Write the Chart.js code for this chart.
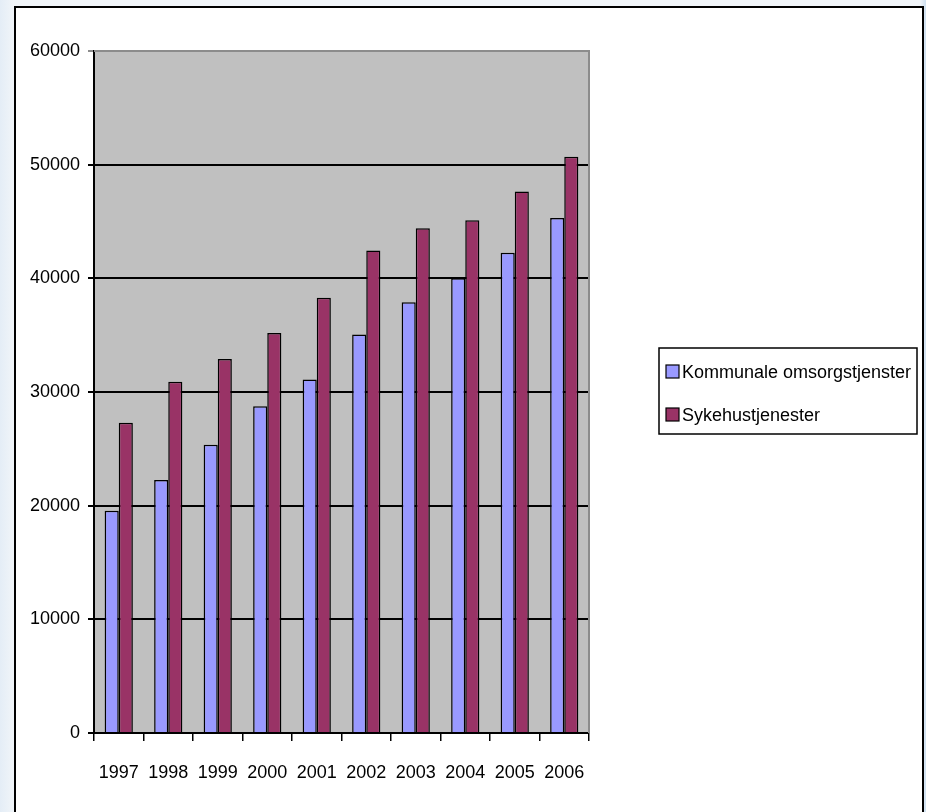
<!DOCTYPE html>
<html>
<head>
<meta charset="utf-8">
<title>Kommunale omsorgstjenester og sykehustjenester 1997-2006</title>
<script src="https://cdn.jsdelivr.net/npm/chart.js@4.4.1/dist/chart.umd.min.js"></script>
<style>
  html, body { margin: 0; padding: 0; }
  body {
    width: 926px; height: 812px; overflow: hidden; position: relative;
    background: linear-gradient(90deg, #e4edf6 0px, #f1f5f9 14px, #f1f5f9 920px, #cddff0 926px);
  }
  #frame {
    position: absolute; left: 14px; top: 6px; width: 906px; height: 900px;
    border: 2px solid #000; background: #fff;
  }
  #wrap { position: absolute; left: 0; top: 0; width: 926px; height: 812px; }
</style>
</head>
<body>
<div id="frame"></div>
<div id="wrap"><canvas id="chart"></canvas></div>
<script>
// data
const years = ["1997","1998","1999","2000","2001","2002","2003","2004","2005","2006"];
const kommunale = [19550, 22250, 25350, 28750, 31100, 35050, 37900, 40000, 42250, 45300];
const sykehus   = [27300, 30900, 32900, 35200, 38300, 42450, 44400, 45100, 47650, 50700];
const yTicks = [0, 10000, 20000, 30000, 40000, 50000, 60000];

const FONT = '"Liberation Sans", Arial, sans-serif';
const FSIZE = 18;

// grey plot background + grey top/right border
const plotBg = {
  id: 'plotBg',
  beforeDraw(chart) {
    const a = chart.chartArea, ctx = chart.ctx;
    ctx.save();
    ctx.fillStyle = '#c0c0c0';
    ctx.fillRect(a.left, a.top, a.right - a.left, a.bottom - a.top);
    ctx.restore();
  },
  afterDatasetsDraw(chart) {
    const a = chart.chartArea, ctx = chart.ctx;
    ctx.save();
    ctx.strokeStyle = '#8c8c8c';
    ctx.lineWidth = 2;
    ctx.beginPath();
    ctx.moveTo(a.left, a.top);
    ctx.lineTo(a.right, a.top);
    ctx.lineTo(a.right, a.bottom);
    ctx.stroke();
    ctx.restore();
  }
};

// boxed legend on the right, like the old Excel one
const boxLegend = {
  id: 'boxLegend',
  afterDraw(chart) {
    const ctx = chart.ctx;
    const x = 659, y = 348, w = 258, h = 86;
    ctx.save();
    ctx.fillStyle = '#fff';
    ctx.fillRect(x, y, w, h);
    ctx.strokeStyle = '#000';
    ctx.lineWidth = 1.5;
    ctx.strokeRect(x, y, w, h);
    ctx.font = FSIZE + 'px ' + FONT;
    ctx.textBaseline = 'middle';
    chart.data.datasets.forEach((ds, i) => {
      const cy = y + 24 + i * 43;
      ctx.fillStyle = ds.backgroundColor;
      ctx.fillRect(x + 7, cy - 7, 13, 13);
      ctx.lineWidth = 1.2;
      ctx.strokeRect(x + 7, cy - 7, 13, 13);
      ctx.fillStyle = '#000';
      ctx.fillText(ds.label, x + 23, cy + 1);
    });
    ctx.restore();
  }
};

new Chart(document.getElementById('chart'), {
  type: 'bar',
  data: {
    labels: years,
    datasets: [
      { label: 'Kommunale omsorgstjenster', data: kommunale, backgroundColor: '#9999ff',
        borderColor: '#000', borderWidth: 1.5 },
      { label: 'Sykehustjenester', data: sykehus, backgroundColor: '#993366',
        borderColor: '#000', borderWidth: 1.5 }
    ]
  },
  options: {
    responsive: true,
    maintainAspectRatio: false,
    animation: false,
    layout: { padding: { left: 0, top: 51, right: 337, bottom: 0 } },
    datasets: { bar: { categoryPercentage: 0.57, barPercentage: 1.0 } },
    plugins: { legend: { display: false }, tooltip: { enabled: false } },
    scales: {
      x: {
        grid: { offset: true, drawOnChartArea: false, drawTicks: true, tickLength: 8,
                color: '#000', lineWidth: 1.5 },
        border: { color: '#000', width: 2 },
        ticks: { color: '#000', font: { family: FONT, size: FSIZE }, padding: 21,
                 maxRotation: 0, autoSkip: false },
        afterFit(s) { s.height = 79; }
      },
      y: {
        min: 0, max: 60000,
        afterBuildTicks(s) { s.ticks = yTicks.map(v => ({ value: v })); },
        grid: {
          color: c => (c.tick && c.tick.value === 60000) ? '#8c8c8c' : '#000',
          lineWidth: 2, tickLength: 6
        },
        border: { color: '#000', width: 2 },
        ticks: { color: '#000', font: { family: FONT, size: FSIZE }, padding: 8,
                 callback: v => String(v) },
        afterFit(s) { s.width = 94; }
      }
    }
  },
  plugins: [plotBg, boxLegend]
});
</script>
</body>
</html>
